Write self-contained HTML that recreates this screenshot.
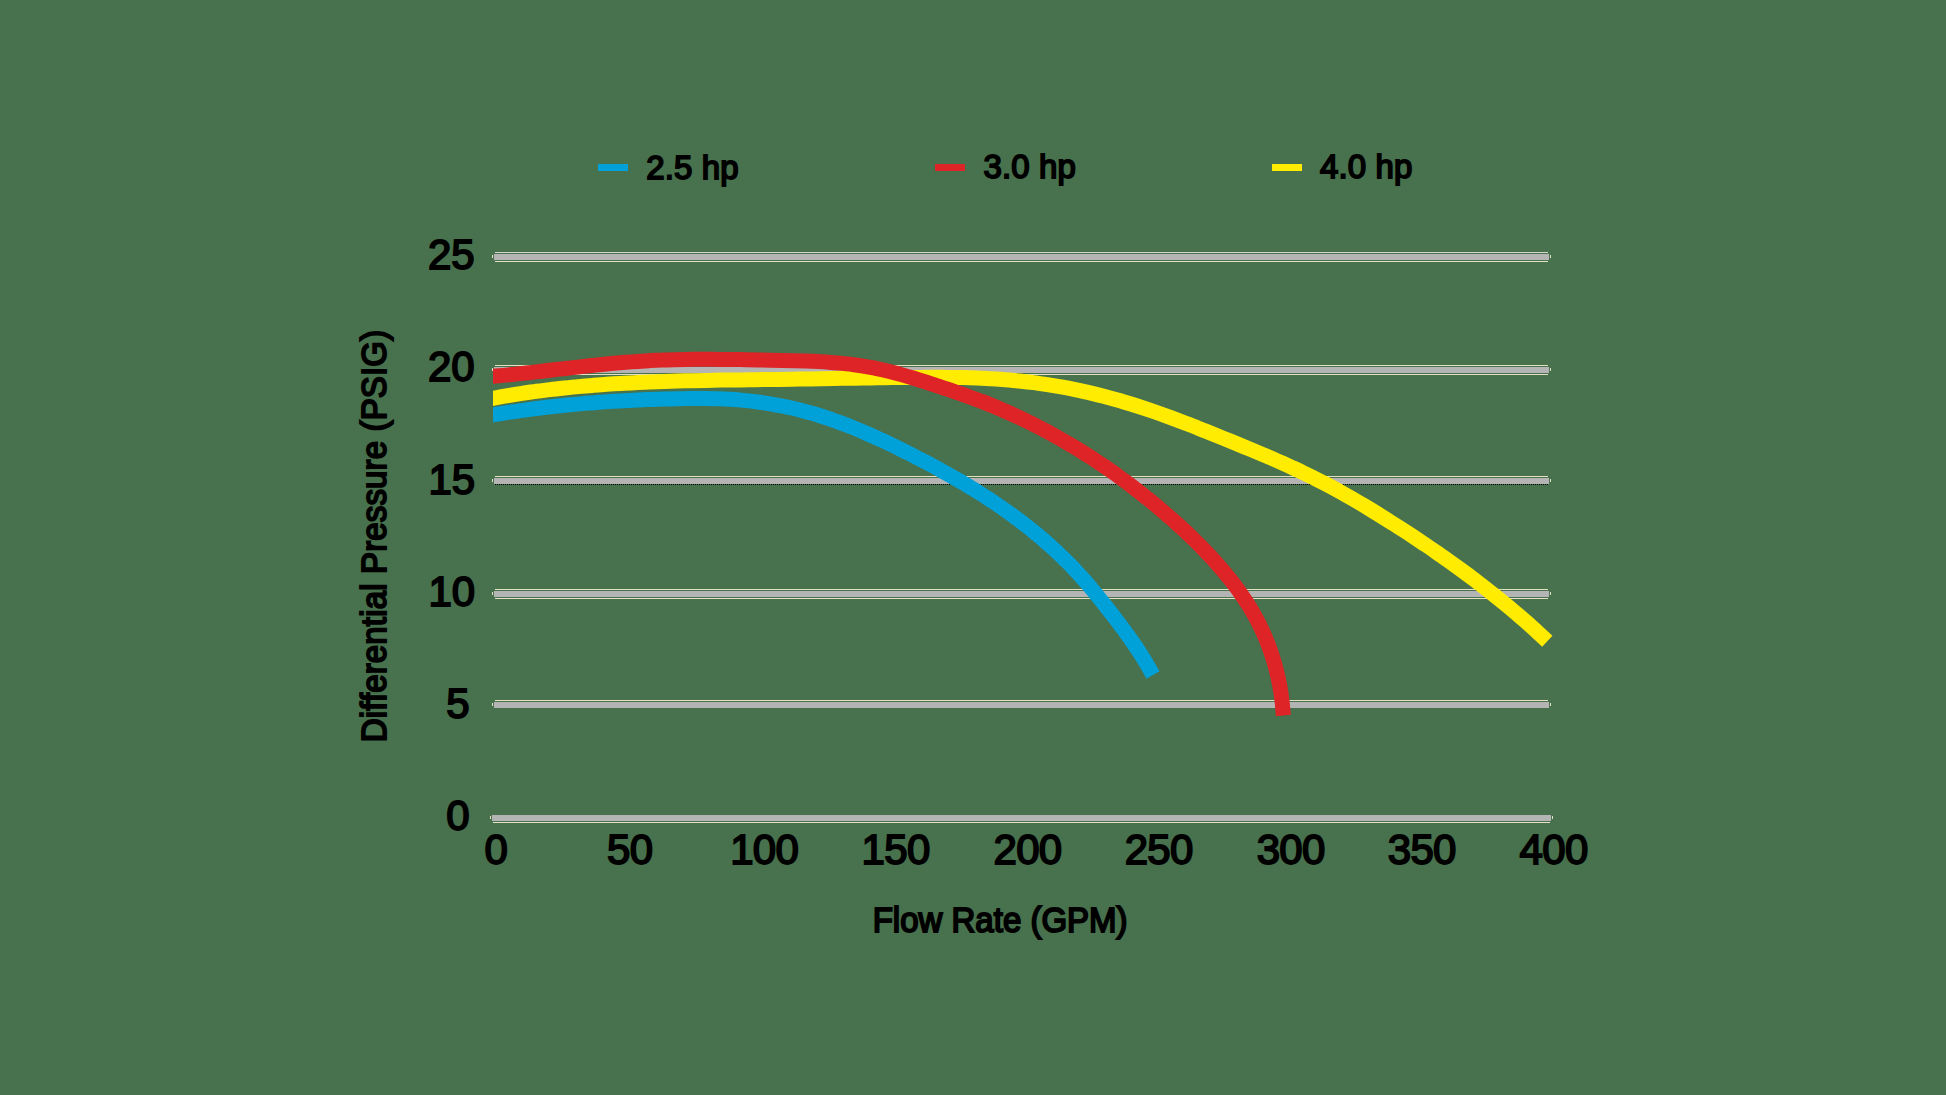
<!DOCTYPE html><html><head><meta charset="utf-8"><title>Pump curves</title><style>
html,body{margin:0;padding:0}
body{width:1946px;height:1095px;background:#48714d;position:relative;overflow:hidden;font-family:"Liberation Sans",sans-serif;color:#000}
.t{position:absolute;white-space:nowrap;line-height:1;-webkit-text-stroke:1.8px #000}
.yl{font-size:42px}
.xl{font-size:42px}
.lg{font-size:33px;-webkit-text-stroke:1.8px #000}
.ax{font-size:33px;-webkit-text-stroke:1.8px #000}
</style></head><body>
<svg width="1946" height="1095" viewBox="0 0 1946 1095" style="position:absolute;left:0;top:0">
<rect x="494" y="254" width="1055" height="6" fill="#b4b4b4"/>
<rect x="495" y="252" width="1053" height="1" fill="#d6d5cc"/>
<rect x="495" y="261" width="1053" height="1" fill="#e4e0c4"/>
<rect x="492" y="255" width="1" height="3" fill="#e4e0c4"/>
<rect x="1550" y="255" width="1" height="3" fill="#e4e0c4"/>
<rect x="494" y="367" width="1055" height="6" fill="#b4b4b4"/>
<rect x="495" y="365" width="1053" height="1" fill="#e4e0c4"/>
<rect x="495" y="374" width="1053" height="1" fill="#e4e0c4"/>
<rect x="492" y="368" width="1" height="3" fill="#e4e0c4"/>
<rect x="1550" y="368" width="1" height="3" fill="#e4e0c4"/>
<rect x="494" y="478" width="1055" height="6" fill="#b4b4b4"/>
<rect x="495" y="476" width="1053" height="1" fill="#e4e0c4"/>
<line x1="495" y1="484.5" x2="1548" y2="484.5" stroke="#000" stroke-width="1" stroke-dasharray="1 1" shape-rendering="crispEdges"/>
<rect x="492" y="479" width="1" height="3" fill="#e4e0c4"/>
<rect x="1550" y="479" width="1" height="3" fill="#e4e0c4"/>
<rect x="494" y="591" width="1055" height="6" fill="#b4b4b4"/>
<rect x="495" y="589" width="1053" height="1" fill="#e4e0c4"/>
<rect x="495" y="598" width="1053" height="1" fill="#e4e0c4"/>
<rect x="492" y="592" width="1" height="3" fill="#e4e0c4"/>
<rect x="1550" y="592" width="1" height="3" fill="#e4e0c4"/>
<rect x="494" y="702" width="1055" height="6" fill="#b4b4b4"/>
<rect x="495" y="700" width="1053" height="1" fill="#e4e0c4"/>
<rect x="492" y="703" width="1" height="3" fill="#e4e0c4"/>
<rect x="1550" y="703" width="1" height="3" fill="#e4e0c4"/>
<rect x="492" y="815" width="1059" height="6" fill="#b4b4b4"/>
<rect x="493" y="822" width="1057" height="1" fill="#e4e0c4"/>
<rect x="490" y="816" width="1" height="3" fill="#e4e0c4"/>
<rect x="1552" y="816" width="1" height="3" fill="#e4e0c4"/>
<defs><clipPath id="cp"><rect x="493" y="200" width="1100" height="640"/></clipPath></defs><g clip-path="url(#cp)">
<path d="M488.1 415.7 C489.1 415.5 491.4 415.1 494.0 414.7 C496.6 414.3 500.3 413.7 503.4 413.2 C506.6 412.7 509.7 412.2 512.9 411.7 C516.1 411.3 519.2 410.8 522.4 410.4 C525.6 409.9 528.7 409.5 531.9 409.1 C535.1 408.7 538.3 408.3 541.5 407.9 C544.6 407.5 547.8 407.1 551.0 406.8 C554.2 406.4 557.4 406.1 560.6 405.7 C563.8 405.4 567.0 405.1 570.2 404.8 C573.4 404.5 576.6 404.2 579.8 403.9 C583.0 403.6 586.3 403.3 589.5 403.1 C592.7 402.8 595.9 402.6 599.1 402.3 C602.3 402.1 605.5 401.9 608.8 401.6 C612.0 401.4 615.2 401.2 618.4 401.0 C621.6 400.8 624.8 400.7 628.1 400.5 C631.3 400.3 634.5 400.2 637.7 400.0 C640.9 399.9 644.2 399.7 647.4 399.6 C650.6 399.5 653.8 399.3 657.0 399.2 C660.3 399.1 663.5 399.0 666.7 398.9 C669.9 398.9 673.1 398.8 676.3 398.7 C679.5 398.7 682.8 398.6 686.0 398.6 C689.2 398.5 692.4 398.5 695.6 398.5 C698.8 398.5 702.0 398.5 705.2 398.5 C708.4 398.5 711.6 398.6 714.8 398.7 C718.0 398.8 721.1 398.9 724.3 399.0 C727.5 399.2 730.7 399.4 733.9 399.6 C737.0 399.8 740.2 400.1 743.4 400.4 C746.6 400.7 749.7 401.0 752.9 401.4 C756.0 401.8 759.2 402.2 762.3 402.6 C765.5 403.1 768.6 403.6 771.8 404.1 C774.9 404.7 778.0 405.2 781.2 405.8 C784.3 406.5 787.4 407.1 790.5 407.8 C793.6 408.5 796.7 409.2 799.8 410.0 C802.9 410.8 806.0 411.6 809.1 412.5 C812.2 413.3 815.3 414.2 818.3 415.2 C821.4 416.1 824.5 417.1 827.5 418.2 C830.6 419.2 833.6 420.3 836.7 421.4 C839.7 422.5 842.7 423.6 845.8 424.8 C848.8 425.9 851.8 427.2 854.8 428.4 C857.8 429.6 860.8 430.9 863.8 432.2 C866.8 433.4 869.7 434.7 872.7 436.1 C875.7 437.4 878.6 438.8 881.6 440.1 C884.5 441.5 887.4 442.9 890.4 444.3 C893.3 445.7 896.2 447.1 899.1 448.5 C902.0 450.0 904.9 451.4 907.8 452.9 C910.6 454.3 913.5 455.8 916.4 457.3 C919.2 458.7 922.1 460.2 924.9 461.7 C927.7 463.2 930.5 464.7 933.4 466.2 C936.2 467.7 939.0 469.2 941.7 470.8 C944.5 472.3 947.3 473.8 950.1 475.4 C952.8 477.0 955.6 478.6 958.3 480.1 C961.1 481.7 963.8 483.4 966.5 485.0 C969.2 486.6 972.0 488.3 974.7 489.9 C977.4 491.6 980.0 493.3 982.7 495.0 C985.4 496.7 988.1 498.5 990.7 500.2 C993.4 502.0 996.0 503.8 998.7 505.6 C1001.3 507.4 1003.9 509.2 1006.6 511.1 C1009.2 512.9 1011.8 514.8 1014.4 516.7 C1017.0 518.7 1019.6 520.6 1022.1 522.6 C1024.7 524.5 1027.2 526.5 1029.8 528.5 C1032.3 530.6 1034.8 532.6 1037.3 534.7 C1039.8 536.7 1042.2 538.8 1044.7 541.0 C1047.1 543.1 1049.6 545.2 1051.9 547.4 C1054.3 549.5 1056.7 551.7 1059.0 554.0 C1061.4 556.2 1063.7 558.4 1065.9 560.7 C1068.2 562.9 1070.5 565.2 1072.7 567.5 C1074.9 569.8 1077.0 572.2 1079.2 574.5 C1081.3 576.9 1083.4 579.2 1085.5 581.6 C1087.6 584.0 1089.7 586.5 1091.7 588.9 C1093.8 591.3 1095.8 593.8 1097.8 596.2 C1099.8 598.7 1101.8 601.2 1103.8 603.7 C1105.8 606.2 1107.8 608.8 1109.7 611.3 C1111.7 613.8 1113.7 616.4 1115.7 619.0 C1117.6 621.5 1119.6 624.1 1121.5 626.7 C1123.5 629.3 1125.4 631.9 1127.3 634.6 C1129.2 637.2 1131.1 639.8 1132.9 642.5 C1134.7 645.1 1136.5 647.8 1138.3 650.5 C1140.0 653.1 1141.7 655.8 1143.4 658.5 C1145.1 661.2 1146.7 664.0 1148.3 666.7 C1149.9 669.4 1152.2 673.6 1153.0 675.0" fill="none" stroke="#00a0d8" stroke-width="15"/>
<path d="M488.1 399.2 C489.1 399.0 490.7 398.7 494.0 398.1 C497.3 397.5 503.3 396.4 508.0 395.6 C512.7 394.8 517.3 394.1 522.0 393.4 C526.7 392.6 531.4 392.0 536.0 391.3 C540.7 390.7 545.4 390.1 550.1 389.6 C554.8 389.0 559.5 388.5 564.2 388.0 C568.9 387.5 573.6 387.0 578.3 386.6 C583.0 386.1 587.7 385.7 592.4 385.4 C597.2 385.0 601.9 384.6 606.6 384.3 C611.3 384.0 616.1 383.7 620.8 383.4 C625.5 383.1 630.3 382.9 635.0 382.7 C639.7 382.4 644.5 382.2 649.2 382.0 C653.9 381.8 658.7 381.6 663.4 381.5 C668.2 381.3 672.9 381.2 677.7 381.0 C682.4 380.9 687.2 380.8 691.9 380.7 C696.7 380.6 701.5 380.5 706.2 380.4 C711.0 380.3 715.7 380.2 720.5 380.1 C725.3 380.1 730.0 380.0 734.8 379.9 C739.6 379.9 744.3 379.8 749.1 379.7 C753.8 379.7 758.6 379.6 763.4 379.5 C768.2 379.5 772.9 379.4 777.7 379.4 C782.5 379.3 787.2 379.2 792.0 379.2 C796.8 379.1 801.5 379.0 806.3 378.9 C811.1 378.9 815.8 378.8 820.6 378.7 C825.4 378.6 830.1 378.5 834.9 378.5 C839.7 378.4 844.4 378.3 849.2 378.2 C854.0 378.2 858.7 378.1 863.5 378.0 C868.2 377.9 873.0 377.9 877.7 377.8 C882.5 377.7 887.2 377.7 892.0 377.6 C896.7 377.6 901.5 377.5 906.2 377.5 C911.0 377.4 915.7 377.4 920.5 377.4 C925.2 377.3 929.9 377.3 934.7 377.3 C939.4 377.3 944.1 377.4 948.8 377.4 C953.6 377.5 958.3 377.5 963.0 377.6 C967.7 377.7 972.4 377.9 977.1 378.1 C981.8 378.2 986.5 378.5 991.2 378.7 C995.9 379.0 1000.6 379.3 1005.3 379.7 C1010.0 380.1 1014.7 380.5 1019.3 381.0 C1024.0 381.5 1028.7 382.0 1033.3 382.6 C1038.0 383.2 1042.6 383.9 1047.3 384.6 C1051.9 385.3 1056.6 386.1 1061.2 386.9 C1065.8 387.7 1070.5 388.6 1075.1 389.6 C1079.7 390.5 1084.3 391.6 1088.9 392.6 C1093.5 393.7 1098.1 394.8 1102.7 396.0 C1107.3 397.2 1111.8 398.4 1116.4 399.7 C1121.0 401.0 1125.5 402.4 1130.1 403.8 C1134.6 405.2 1139.2 406.7 1143.7 408.2 C1148.3 409.7 1152.8 411.2 1157.3 412.8 C1161.8 414.4 1166.3 416.0 1170.8 417.6 C1175.3 419.3 1179.8 421.0 1184.3 422.7 C1188.7 424.4 1193.2 426.1 1197.6 427.9 C1202.1 429.6 1206.5 431.4 1211.0 433.2 C1215.4 435.0 1219.8 436.8 1224.2 438.6 C1228.6 440.4 1233.0 442.2 1237.4 444.0 C1241.8 445.8 1246.1 447.6 1250.5 449.4 C1254.9 451.3 1259.2 453.1 1263.5 454.9 C1267.9 456.8 1272.2 458.6 1276.5 460.5 C1280.8 462.4 1285.1 464.3 1289.4 466.2 C1293.6 468.2 1297.9 470.1 1302.1 472.2 C1306.4 474.2 1310.6 476.2 1314.8 478.4 C1319.1 480.5 1323.3 482.6 1327.5 484.9 C1331.6 487.1 1335.8 489.4 1340.0 491.7 C1344.1 494.0 1348.3 496.4 1352.4 498.7 C1356.5 501.1 1360.7 503.6 1364.8 506.0 C1368.9 508.5 1372.9 511.0 1377.0 513.5 C1381.1 516.0 1385.1 518.5 1389.1 521.1 C1393.2 523.6 1397.2 526.2 1401.2 528.8 C1405.2 531.3 1409.2 533.9 1413.1 536.5 C1417.1 539.2 1421.0 541.8 1424.9 544.4 C1428.9 547.1 1432.8 549.8 1436.7 552.5 C1440.5 555.2 1444.4 557.9 1448.3 560.6 C1452.1 563.3 1455.9 566.1 1459.8 568.9 C1463.6 571.7 1467.4 574.5 1471.1 577.3 C1474.9 580.1 1478.7 583.0 1482.4 585.8 C1486.1 588.7 1489.8 591.6 1493.5 594.6 C1497.2 597.5 1500.9 600.5 1504.5 603.5 C1508.2 606.5 1511.8 609.5 1515.4 612.6 C1519.0 615.7 1522.6 618.8 1526.2 621.9 C1529.7 625.1 1533.3 628.2 1536.8 631.5 C1540.3 634.7 1545.6 639.7 1547.3 641.3" fill="none" stroke="#ffec00" stroke-width="15"/>
<path d="M488.0 376.8 C489.0 376.7 491.0 376.5 494.0 376.2 C497.0 375.9 502.0 375.5 505.9 375.1 C509.9 374.7 513.9 374.3 517.9 373.9 C521.8 373.5 525.8 373.0 529.8 372.6 C533.8 372.1 537.8 371.7 541.8 371.2 C545.8 370.8 549.8 370.3 553.8 369.8 C557.8 369.4 561.7 368.9 565.7 368.5 C569.7 368.0 573.7 367.5 577.7 367.1 C581.7 366.6 585.7 366.2 589.7 365.7 C593.7 365.3 597.8 364.9 601.8 364.5 C605.8 364.1 609.8 363.7 613.8 363.3 C617.8 363.0 621.8 362.6 625.8 362.3 C629.8 361.9 633.8 361.6 637.8 361.4 C641.9 361.1 645.9 360.9 649.9 360.6 C653.9 360.4 657.9 360.2 661.9 360.1 C665.9 359.9 669.9 359.8 674.0 359.7 C678.0 359.6 682.0 359.5 686.0 359.4 C690.0 359.4 694.0 359.3 698.0 359.3 C702.1 359.3 706.1 359.3 710.1 359.3 C714.1 359.3 718.1 359.3 722.1 359.4 C726.1 359.4 730.2 359.5 734.2 359.5 C738.2 359.6 742.2 359.6 746.2 359.7 C750.2 359.8 754.2 359.9 758.2 360.0 C762.3 360.0 766.3 360.1 770.3 360.2 C774.3 360.3 778.3 360.4 782.3 360.5 C786.3 360.6 790.3 360.7 794.3 360.8 C798.3 360.9 802.3 361.0 806.3 361.1 C810.3 361.3 814.3 361.4 818.3 361.6 C822.3 361.8 826.3 362.1 830.3 362.4 C834.3 362.7 838.2 363.0 842.2 363.4 C846.2 363.8 850.1 364.3 854.1 364.8 C858.1 365.4 862.0 366.0 866.0 366.6 C869.9 367.3 873.9 368.0 877.8 368.8 C881.7 369.7 885.7 370.5 889.6 371.5 C893.5 372.5 897.4 373.5 901.3 374.6 C905.2 375.7 909.1 376.8 913.0 378.0 C916.9 379.2 920.7 380.4 924.6 381.6 C928.4 382.9 932.3 384.2 936.1 385.4 C940.0 386.7 943.8 388.0 947.6 389.2 C951.4 390.5 955.2 391.8 959.0 393.1 C962.8 394.5 966.5 395.8 970.3 397.2 C974.1 398.5 977.8 399.9 981.5 401.4 C985.3 402.8 989.0 404.3 992.7 405.8 C996.4 407.3 1000.0 408.9 1003.7 410.5 C1007.4 412.1 1011.0 413.7 1014.6 415.4 C1018.3 417.0 1021.9 418.8 1025.5 420.5 C1029.1 422.2 1032.7 424.0 1036.2 425.9 C1039.8 427.7 1043.3 429.5 1046.9 431.4 C1050.4 433.3 1053.9 435.3 1057.4 437.2 C1060.9 439.2 1064.4 441.2 1067.8 443.2 C1071.3 445.3 1074.7 447.3 1078.2 449.4 C1081.6 451.5 1085.0 453.7 1088.4 455.8 C1091.7 458.0 1095.1 460.2 1098.4 462.4 C1101.8 464.7 1105.1 466.9 1108.4 469.2 C1111.7 471.5 1115.0 473.8 1118.3 476.2 C1121.5 478.5 1124.8 480.9 1128.0 483.3 C1131.2 485.8 1134.4 488.2 1137.6 490.7 C1140.8 493.1 1143.9 495.6 1147.0 498.2 C1150.2 500.7 1153.3 503.2 1156.4 505.8 C1159.5 508.4 1162.5 511.0 1165.6 513.6 C1168.6 516.3 1171.7 518.9 1174.7 521.6 C1177.7 524.3 1180.6 527.0 1183.6 529.7 C1186.5 532.5 1189.5 535.2 1192.3 538.0 C1195.2 540.8 1198.1 543.7 1200.9 546.5 C1203.7 549.4 1206.5 552.3 1209.2 555.2 C1212.0 558.1 1214.7 561.1 1217.3 564.1 C1220.0 567.1 1222.6 570.2 1225.2 573.2 C1227.7 576.3 1230.2 579.5 1232.7 582.6 C1235.1 585.8 1237.5 589.0 1239.8 592.3 C1242.1 595.5 1244.4 598.8 1246.5 602.2 C1248.7 605.5 1250.8 608.9 1252.8 612.4 C1254.8 615.8 1256.7 619.3 1258.6 622.9 C1260.4 626.5 1262.1 630.1 1263.7 633.7 C1265.4 637.4 1266.9 641.1 1268.3 644.9 C1269.7 648.6 1271.1 652.4 1272.3 656.3 C1273.5 660.1 1274.7 664.0 1275.7 667.8 C1276.7 671.7 1277.7 675.7 1278.5 679.6 C1279.3 683.5 1280.1 687.5 1280.7 691.5 C1281.3 695.5 1281.9 699.5 1282.3 703.5 C1282.7 707.5 1283.1 713.5 1283.3 715.5" fill="none" stroke="#df2427" stroke-width="15"/>
</g>
<rect x="598" y="164" width="30" height="7" fill="#00a0d8"/>
<rect x="935" y="164" width="30" height="7" fill="#df2427"/>
<rect x="1272" y="164" width="30" height="7" fill="#ffec00"/>
</svg>
<div class="t yl" id="y0" style="left:428.0px;top:234.2px;">25</div>
<div class="t yl" id="y1" style="left:428.0px;top:346.0px;">20</div>
<div class="t yl" id="y2" style="left:428.5px;top:458.6px;">15</div>
<div class="t yl" id="y3" style="left:428.5px;top:571.3px;">10</div>
<div class="t yl" id="y4" style="left:446.2px;top:683.0px;">5</div>
<div class="t yl" id="y5" style="left:446.3px;top:795.3px;">0</div>
<div class="t xl" id="x0" style="left:484.6px;top:828.6px;letter-spacing:-0.7px;">0</div>
<div class="t xl" id="x1" style="left:607.1px;top:828.6px;letter-spacing:-0.7px;">50</div>
<div class="t xl" id="x2" style="left:730.2px;top:828.6px;letter-spacing:-0.7px;">100</div>
<div class="t xl" id="x3" style="left:861.6px;top:828.6px;letter-spacing:-0.7px;">150</div>
<div class="t xl" id="x4" style="left:993.5px;top:828.6px;letter-spacing:-0.7px;">200</div>
<div class="t xl" id="x5" style="left:1124.7px;top:828.6px;letter-spacing:-0.7px;">250</div>
<div class="t xl" id="x6" style="left:1256.7px;top:828.6px;letter-spacing:-0.7px;">300</div>
<div class="t xl" id="x7" style="left:1387.8px;top:828.6px;letter-spacing:-0.7px;">350</div>
<div class="t xl" id="x8" style="left:1519.6px;top:828.6px;letter-spacing:-0.7px;">400</div>
<div class="t lg" id="l0" style="left:646.3px;top:150.6px;letter-spacing:0.1px;">2.5 hp</div>
<div class="t lg" id="l1" style="left:983.6px;top:150.4px;letter-spacing:0.1px;">3.0 hp</div>
<div class="t lg" id="l2" style="left:1320.0px;top:150.4px;letter-spacing:0.1px;">4.0 hp</div>
<div class="t ax" id="xt" style="left:872.7px;top:903.0px;transform:scaleY(1.08);transform-origin:50% 50%;">Flow Rate (GPM)</div>
<div class="t ax" id="yt" style="left:373.7px;top:536.0px;letter-spacing:0.15px;transform:translate(-50%,-50%) rotate(-90deg) scaleY(1.08)">Differential Pressure (PSIG)</div>
</body></html>
